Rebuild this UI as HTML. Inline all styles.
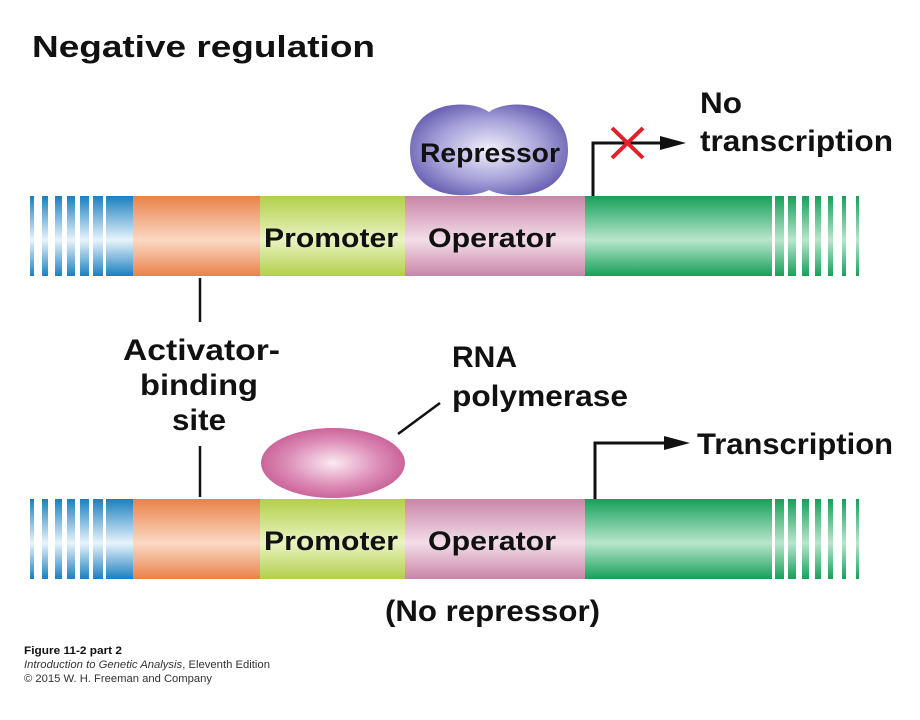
<!DOCTYPE html>
<html><head><meta charset="utf-8"><style>
html,body{margin:0;padding:0;background:#fff;width:920px;height:720px;overflow:hidden}
text{font-family:"Liberation Sans",sans-serif;font-weight:bold;fill:#111}
</style></head><body>
<svg width="920" height="720" viewBox="0 0 920 720" xmlns="http://www.w3.org/2000/svg">
<defs>
<linearGradient id="gb" x1="0" y1="0" x2="0" y2="1"><stop offset="0" stop-color="#1a7fc0"/><stop offset=".55" stop-color="#e8f4fb"/><stop offset="1" stop-color="#1a7fc0"/></linearGradient>
<linearGradient id="go" x1="0" y1="0" x2="0" y2="1"><stop offset="0" stop-color="#e9824a"/><stop offset=".55" stop-color="#fbd9c4"/><stop offset="1" stop-color="#e9824a"/></linearGradient>
<linearGradient id="gy" x1="0" y1="0" x2="0" y2="1"><stop offset="0" stop-color="#b3cf4a"/><stop offset=".55" stop-color="#e9f3c2"/><stop offset="1" stop-color="#b3cf4a"/></linearGradient>
<linearGradient id="gp" x1="0" y1="0" x2="0" y2="1"><stop offset="0" stop-color="#c985a8"/><stop offset=".55" stop-color="#f3dde8"/><stop offset="1" stop-color="#c985a8"/></linearGradient>
<linearGradient id="gg" x1="0" y1="0" x2="0" y2="1"><stop offset="0" stop-color="#17a05a"/><stop offset=".55" stop-color="#b8e6cc"/><stop offset="1" stop-color="#17a05a"/></linearGradient>
<radialGradient id="rp" cx=".5" cy=".5" r=".55"><stop offset="0" stop-color="#f2f0fb"/><stop offset=".6" stop-color="#a7a3da"/><stop offset="1" stop-color="#6a62b3"/></radialGradient>
<radialGradient id="rn" cx=".5" cy=".5" r=".55"><stop offset="0" stop-color="#fbeaf2"/><stop offset=".6" stop-color="#dc8ab5"/><stop offset="1" stop-color="#c55a92"/></radialGradient>
<g id="bar">
<rect x="30" y="0" width="4" height="80" fill="url(#gb)"/>
<rect x="42" y="0" width="6" height="80" fill="url(#gb)"/>
<rect x="55" y="0" width="7" height="80" fill="url(#gb)"/>
<rect x="67" y="0" width="8" height="80" fill="url(#gb)"/>
<rect x="80" y="0" width="9" height="80" fill="url(#gb)"/>
<rect x="93" y="0" width="10" height="80" fill="url(#gb)"/>
<rect x="106" y="0" width="28" height="80" fill="url(#gb)"/>
<rect x="133" y="0" width="128" height="80" fill="url(#go)"/>
<rect x="260" y="0" width="146" height="80" fill="url(#gy)"/>
<rect x="405" y="0" width="181" height="80" fill="url(#gp)"/>
<rect x="585" y="0" width="187" height="80" fill="url(#gg)"/>
<rect x="775" y="0" width="9" height="80" fill="url(#gg)"/>
<rect x="788" y="0" width="8" height="80" fill="url(#gg)"/>
<rect x="802" y="0" width="7" height="80" fill="url(#gg)"/>
<rect x="815" y="0" width="6" height="80" fill="url(#gg)"/>
<rect x="828" y="0" width="5" height="80" fill="url(#gg)"/>
<rect x="842" y="0" width="4" height="80" fill="url(#gg)"/>
<rect x="856" y="0" width="3" height="80" fill="url(#gg)"/>
<text x="264" y="51" font-size="27" textLength="134" lengthAdjust="spacingAndGlyphs">Promoter</text>
<text x="428" y="51" font-size="27" textLength="128" lengthAdjust="spacingAndGlyphs">Operator</text>
</g>
</defs>
<text x="32" y="57" font-size="31" textLength="343" lengthAdjust="spacingAndGlyphs">Negative regulation</text>

<path d="M489,112 C470,98 410,100 410,150 C410,200 470,200 489,190 C508,200 568,200 568,150 C568,100 508,98 489,112 Z" fill="url(#rp)"/>
<text x="420" y="162" font-size="27" textLength="140" lengthAdjust="spacingAndGlyphs">Repressor</text>

<use href="#bar" transform="translate(0,196)"/>
<use href="#bar" transform="translate(0,499)"/>

<path d="M593,196 V143 H662" stroke="#111" stroke-width="3" fill="none"/>
<path d="M660,136 L686,143 L660,150 Z" fill="#111"/>
<path d="M612,128 L643,158 M643,128 L612,158" stroke="#e0202a" stroke-width="4"/>
<text x="700" y="113" font-size="30" textLength="42" lengthAdjust="spacingAndGlyphs">No</text>
<text x="700" y="151" font-size="30" textLength="193" lengthAdjust="spacingAndGlyphs">transcription</text>

<line x1="200" y1="278" x2="200" y2="322" stroke="#111" stroke-width="2.5"/>
<text x="123" y="360" font-size="30" textLength="157" lengthAdjust="spacingAndGlyphs">Activator-</text>
<text x="140" y="395" font-size="30" textLength="118" lengthAdjust="spacingAndGlyphs">binding</text>
<text x="172" y="430" font-size="30" textLength="54" lengthAdjust="spacingAndGlyphs">site</text>
<line x1="200" y1="446" x2="200" y2="497" stroke="#111" stroke-width="2.5"/>

<ellipse cx="333" cy="463" rx="72" ry="35" fill="url(#rn)"/>
<line x1="398" y1="434" x2="440" y2="403" stroke="#111" stroke-width="2.5"/>
<text x="452" y="367" font-size="30" textLength="65" lengthAdjust="spacingAndGlyphs">RNA</text>
<text x="452" y="406" font-size="30" textLength="176" lengthAdjust="spacingAndGlyphs">polymerase</text>

<path d="M595,499 V443 H666" stroke="#111" stroke-width="3" fill="none"/>
<path d="M664,436 L690,443 L664,450 Z" fill="#111"/>
<text x="697" y="454" font-size="30" textLength="196" lengthAdjust="spacingAndGlyphs">Transcription</text>

<text x="385" y="621" font-size="30" textLength="215" lengthAdjust="spacingAndGlyphs">(No repressor)</text>

<text x="24" y="654" font-size="11" textLength="98" lengthAdjust="spacingAndGlyphs">Figure 11-2 part 2</text>
<text x="24" y="668" font-size="11" style="font-weight:normal;fill:#333" textLength="246" lengthAdjust="spacingAndGlyphs"><tspan font-style="italic">Introduction to Genetic Analysis</tspan>, Eleventh Edition</text>
<text x="24" y="682" font-size="11" style="font-weight:normal;fill:#333" textLength="188" lengthAdjust="spacingAndGlyphs">© 2015 W. H. Freeman and Company</text>
</svg>
</body></html>
